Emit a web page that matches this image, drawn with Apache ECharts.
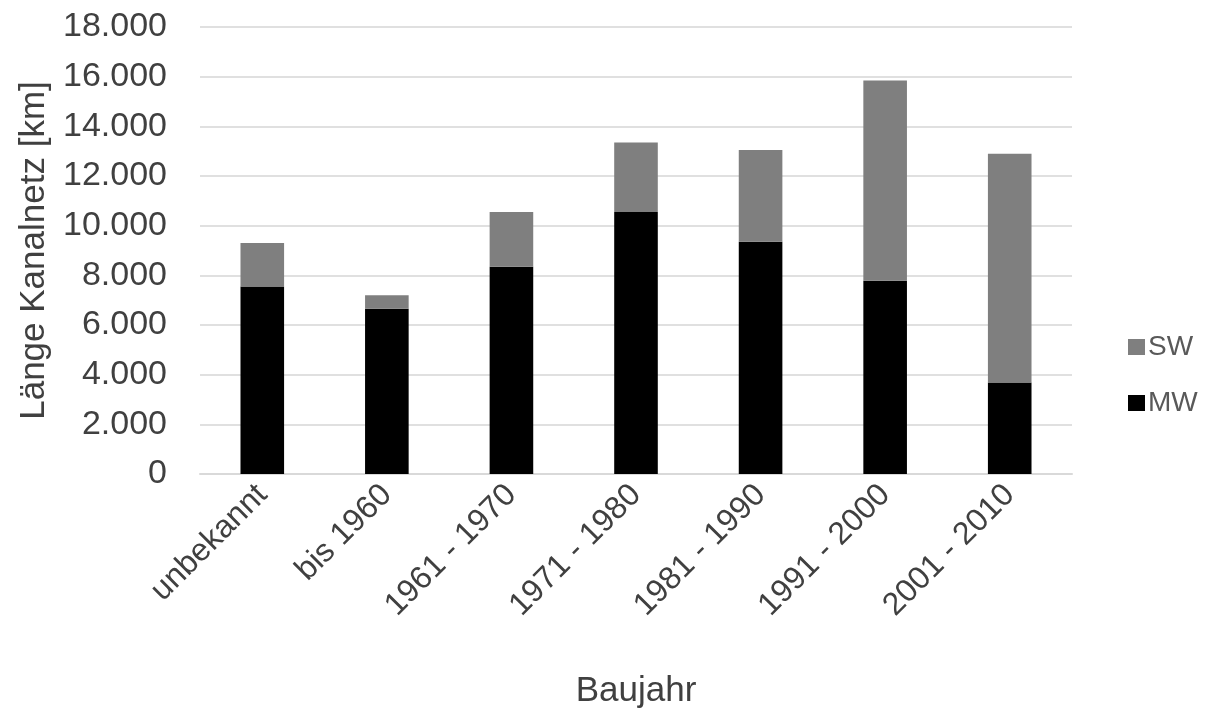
<!DOCTYPE html>
<html><head><meta charset="utf-8">
<script src="https://cdn.jsdelivr.net/npm/echarts@6/dist/echarts.min.js"></script>
<style>html,body{margin:0;padding:0;background:#fff}#c{width:1209px;height:709px}</style>
</head><body><div id="c"></div>
<script>
const categories = ['unbekannt','bis 1960','1961 - 1970','1971 - 1980','1981 - 1990','1991 - 2000','2001 - 2010'];
const mwValues = [7550, 6650, 8350, 10550, 9350, 7780, 3680];
const swValues = [1750, 550, 2200, 2800, 3700, 8070, 9220];
const yTicks = {min: 0, max: 18000, interval: 2000};

const chart = echarts.init(document.getElementById('c'));
const fmt = v => v === 0 ? '0' : String(v).replace(/\B(?=(\d{3})+(?!\d))/g, '.');
const font = 'Liberation Sans, Arial, sans-serif';
chart.setOption({
  animation: false,
  textStyle: {fontFamily: font},
  grid: {left: 200, right: 137, top: 27, bottom: 235, containLabel: false, outerBoundsMode: 'none'},
  legend: {
    orient: 'vertical', left: 1123, top: 328, itemGap: 28,
    itemWidth: 17, itemHeight: 16, icon: 'rect',
    data: ['SW', 'MW'],
    textStyle: {fontSize: 28, color: '#595959', fontFamily: font, padding: [0,0,0,-2]}
  },
  xAxis: {
    type: 'category', data: categories,
    name: 'Baujahr', nameLocation: 'middle', nameGap: 200,
    nameTextStyle: {fontSize: 35, color: '#404040', fontFamily: font},
    axisLine: {lineStyle: {color: '#d9d9d9', width: 2}},
    axisTick: {show: false},
    axisLabel: {rotate: 45, fontSize: 32, color: '#404040', margin: 16, fontFamily: font}
  },
  yAxis: {
    type: 'value', min: yTicks.min, max: yTicks.max, interval: yTicks.interval,
    name: 'Länge Kanalnetz [km]', nameLocation: 'middle', nameGap: 148,
    nameTextStyle: {fontSize: 35, color: '#404040', fontFamily: font},
    axisLine: {show: false}, axisTick: {show: false},
    splitLine: {lineStyle: {color: '#e0e0e0', width: 2}},
    axisLabel: {fontSize: 34, color: '#404040', margin: 33, formatter: fmt, fontFamily: font}
  },
  series: [
    {name: 'MW', type: 'bar', stack: 't', data: mwValues, barWidth: '35%', itemStyle: {color: '#000000'}},
    {name: 'SW', type: 'bar', stack: 't', data: swValues, barWidth: '35%', itemStyle: {color: '#7f7f7f'}}
  ]
});
</script></body></html>
